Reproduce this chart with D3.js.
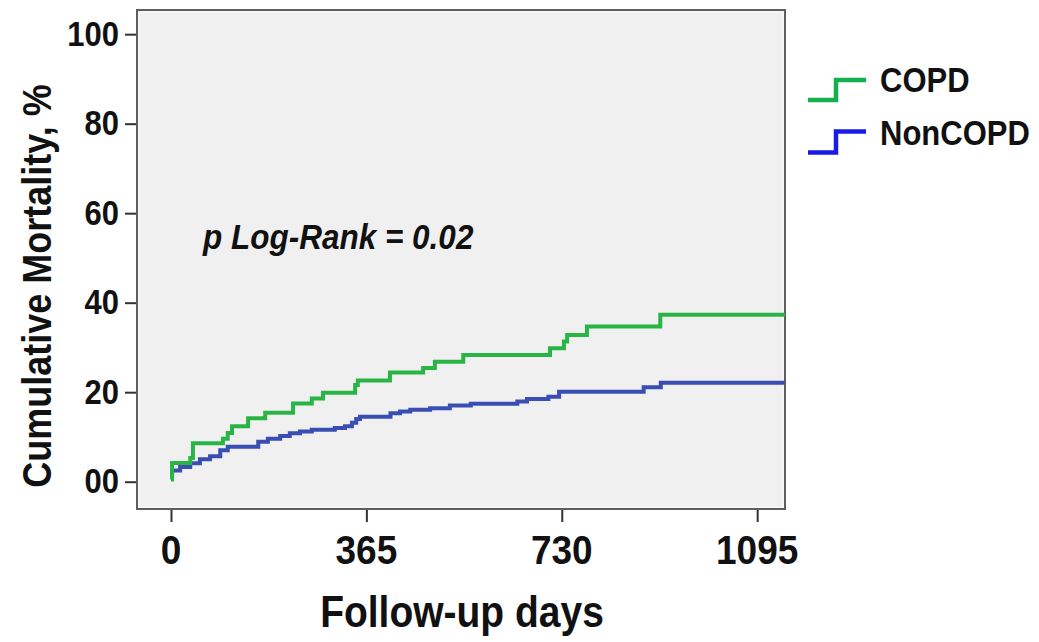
<!DOCTYPE html>
<html>
<head>
<meta charset="utf-8">
<script src="https://cdn.jsdelivr.net/npm/d3@7"></script>
<style>
  html, body { margin: 0; padding: 0; background: #ffffff; }
  svg { display: block; }
  text { font-family: "Liberation Sans", Arial, sans-serif; }
</style>
</head>
<body>
<svg id="chart" width="1039" height="642"></svg>
<script>
// ---- data ----
const seriesNames = ["COPD", "NonCOPD"];
const copdDays   = [0, 2, 36, 41, 97, 106, 114, 144, 176, 228, 263, 284, 344, 349, 409, 471, 493, 546, 708, 734, 740, 777, 914, 1147];
const copdValues = [0.5, 4.2, 5.3, 8.6, 9.6, 10.9, 12.4, 14.2, 15.4, 17.5, 18.6, 19.9, 21.6, 22.6, 24.4, 25.4, 26.8, 28.3, 29.8, 31.3, 32.8, 34.7, 37.3, 37.3];
const nonDays    = [0, 2, 17, 36, 54, 73, 92, 106, 163, 181, 204, 222, 241, 263, 306, 325, 338, 346, 353, 410, 428, 447, 484, 521, 560, 647, 665, 705, 725, 883, 915, 1147];
const nonValues  = [1.5, 2.5, 3.3, 4.1, 5.0, 5.7, 7.0, 7.8, 8.9, 9.6, 10.2, 10.8, 11.2, 11.6, 12.0, 12.4, 13.2, 14.0, 14.5, 15.3, 15.7, 16.1, 16.4, 17.0, 17.4, 17.9, 18.5, 19.0, 20.1, 21.1, 22.1, 22.1];
const xTickValues = [0, 365, 730, 1095];
const xTickLabels = ["0", "365", "730", "1095"];
const yTickValues = [0, 20, 40, 60, 80, 100];
const yTickLabels = ["00", "20", "40", "60", "80", "100"];
const xTitle = "Follow-up days";
const yTitle = "Cumulative Mortality, %";
const annotation = "p Log-Rank = 0.02";

// ---- layout ----
const plot = { left: 137, right: 785, top: 10, bottom: 509 };
const lineColors   = ["#29b545", "#3a4db3"];
const legendColors = ["#14b04c", "#1a1ae8"];
const stretch = 1.12; // vertical stretch of horizontal text

const svg = d3.select("#chart");

const x = d3.scaleLinear().domain([-63.5, 1147]).range([plot.left, plot.right]);
const y = d3.scaleLinear().domain([-6.1, 105.4]).range([plot.bottom, plot.top]);

// plot background + frame
svg.append("rect")
  .attr("x", plot.left).attr("y", plot.top)
  .attr("width", plot.right - plot.left).attr("height", plot.bottom - plot.top)
  .attr("fill", "#f0f0f0").attr("stroke", "#5e5e5e").attr("stroke-width", 2);
svg.append("rect")
  .attr("x", plot.left + 2).attr("y", plot.top + 2)
  .attr("width", plot.right - plot.left - 4).attr("height", plot.bottom - plot.top - 4)
  .attr("fill", "none").attr("stroke", "#fbfbfb").attr("stroke-width", 1);

// y axis ticks
const yAxis = d3.axisLeft(y).tickValues(yTickValues).tickSize(11).tickFormat(() => "");
const gy = svg.append("g").attr("transform", `translate(${plot.left - 1},0)`).call(yAxis);
gy.select(".domain").remove();
gy.selectAll(".tick line").attr("stroke", "#333").attr("stroke-width", 2);

yTickValues.forEach((v, i) => {
  svg.append("text")
    .attr("transform", `translate(119,${y(v) + 11.5}) scale(1,${stretch})`)
    .attr("text-anchor", "end")
    .attr("font-size", 31).attr("font-weight", "bold").attr("fill", "#111")
    .text(yTickLabels[i]);
});

// x axis ticks
const xAxis = d3.axisBottom(x).tickValues(xTickValues).tickSize(12).tickFormat(() => "");
const gx = svg.append("g").attr("transform", `translate(0,${plot.bottom + 1})`).call(xAxis);
gx.select(".domain").remove();
gx.selectAll(".tick line").attr("stroke", "#333").attr("stroke-width", 2);

xTickValues.forEach((v, i) => {
  svg.append("text")
    .attr("transform", `translate(${x(v)},564) scale(1,${stretch})`)
    .attr("text-anchor", "middle")
    .attr("font-size", 37).attr("font-weight", "bold").attr("fill", "#111")
    .text(xTickLabels[i]);
});

// axis titles
svg.append("text")
  .attr("transform", `translate(462,627) scale(1,${stretch})`)
  .attr("text-anchor", "middle")
  .attr("font-size", 39).attr("font-weight", "bold").attr("fill", "#111")
  .text(xTitle);

svg.append("text")
  .attr("transform", `translate(51,286) scale(1,0.9) rotate(-90)`)
  .attr("text-anchor", "middle")
  .attr("font-size", 40).attr("font-weight", "bold").attr("fill", "#111")
  .text(yTitle);

// annotation
svg.append("text")
  .attr("transform", `translate(203,249) scale(1,${stretch})`)
  .attr("font-size", 31.5).attr("font-weight", "bold").attr("font-style", "italic").attr("fill", "#111")
  .text(annotation);

// curves
const line = d3.line().x(d => x(d[0])).y(d => y(d[1])).curve(d3.curveStepAfter);
const series = [
  copdDays.map((d, i) => [d, copdValues[i]]),
  nonDays.map((d, i) => [d, nonValues[i]])
];
[1, 0].forEach(k => {
  svg.append("path")
    .datum(series[k])
    .attr("d", line)
    .attr("fill", "none")
    .attr("stroke", lineColors[k])
    .attr("stroke-width", 4)
    .attr("stroke-linejoin", "miter");
});

// legend
const legendY = [[100, 80, 92], [152.5, 131.5, 145]];
seriesNames.forEach((name, k) => {
  const [low, high, base] = legendY[k];
  svg.append("path")
    .attr("d", `M808,${low} L836,${low} L836,${high} L866,${high}`)
    .attr("fill", "none").attr("stroke", legendColors[k]).attr("stroke-width", 4.5);
  svg.append("text")
    .attr("transform", `translate(880,${base}) scale(1,${stretch})`)
    .attr("font-size", 31).attr("font-weight", "bold").attr("fill", "#111")
    .text(name);
});
</script>
</body>
</html>
